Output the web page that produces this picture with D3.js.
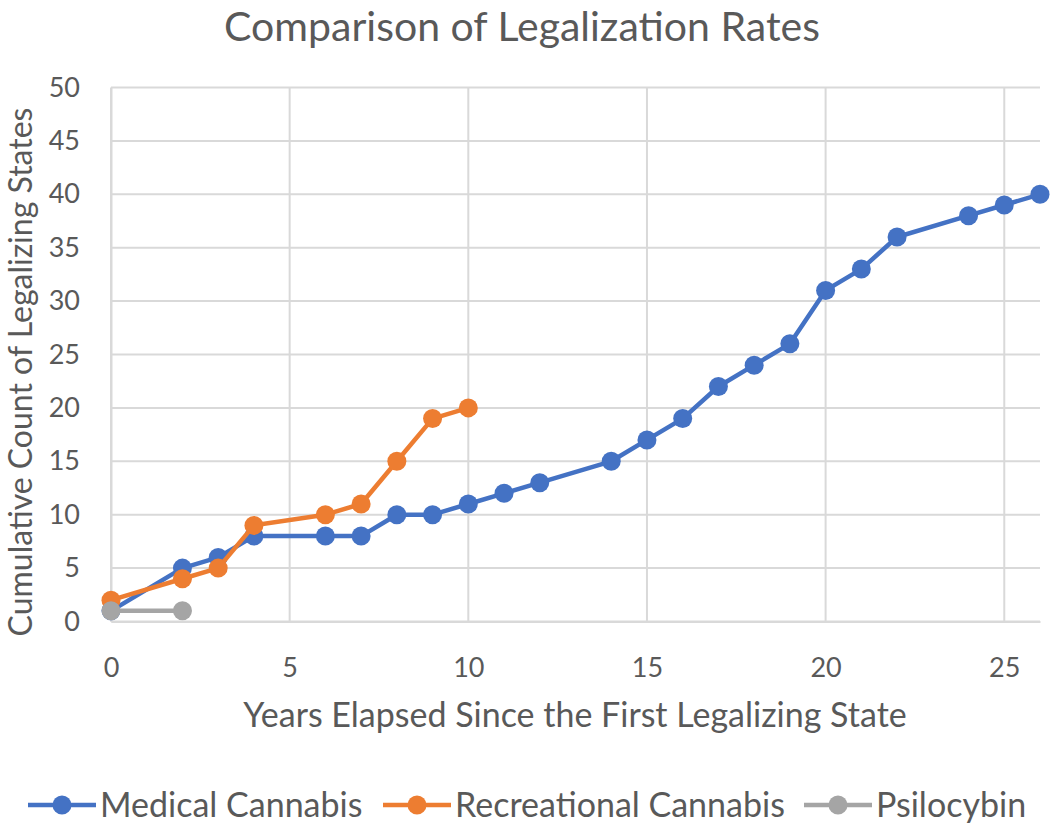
<!DOCTYPE html>
<html><head><meta charset="utf-8">
<script src="https://cdn.jsdelivr.net/npm/d3@7"></script>
<style>body{margin:0;background:#fff}svg{display:block}text{font-family:Lato,"Open Sans",sans-serif;fill:#595959}</style>
</head><body><svg id="c" width="1050" height="827"></svg>
<script>
const medicalYears = [0,2,3,4,6,7,8,9,10,11,12,14,15,16,17,18,19,20,21,22,24,25,26];
const medicalCounts = [1,5,6,8,8,8,10,10,11,12,13,15,17,19,22,24,26,31,33,36,38,39,40];
const recYears = [0,2,3,4,6,7,8,9,10];
const recCounts = [2,4,5,9,10,11,15,19,20];
const psiYears = [0,2];
const psiCounts = [1,1];
const seriesNames = ["Medical Cannabis","Recreational Cannabis","Psilocybin"];
const seriesColors = ["#4472C4","#ED7D31","#A5A5A5"];
const xTicks = [0,5,10,15,20,25];
const yTicks = [0,5,10,15,20,25,30,35,40,45,50];

const svg = d3.select("#c");
const x = d3.scaleLinear().domain([0,26]).range([111,1040]);
const y = d3.scaleLinear().domain([0,50]).range([621.5,87.5]);

// gridlines
svg.append("g").selectAll("line").data(yTicks).join("line")
  .attr("x1",111).attr("x2",1040).attr("y1",d=>y(d)).attr("y2",d=>y(d))
  .attr("stroke","#D9D9D9").attr("stroke-width",2);
svg.append("g").selectAll("line").data(xTicks).join("line")
  .attr("x1",d=>x(d)).attr("x2",d=>x(d)).attr("y1",y(0)).attr("y2",y(50))
  .attr("stroke","#D9D9D9").attr("stroke-width",2);

// axes
const xAxis = svg.append("g").attr("transform",`translate(0,${y(0)})`)
  .call(d3.axisBottom(x).tickValues(xTicks).tickSize(0).tickPadding(36));
xAxis.select(".domain").attr("stroke","#D9D9D9").attr("stroke-width",2);
xAxis.selectAll("text").attr("font-size",27).attr("fill","#595959").style("font-family","Lato");
const yAxis = svg.append("g").attr("transform",`translate(111,0)`)
  .call(d3.axisLeft(y).tickValues(yTicks).tickSize(0).tickPadding(31));
yAxis.select(".domain").attr("stroke","#D9D9D9").attr("stroke-width",2);
yAxis.selectAll("text").attr("font-size",27).attr("fill","#595959").style("font-family","Lato");

// series
const series = [
  {xs:medicalYears, ys:medicalCounts, c:seriesColors[0]},
  {xs:recYears, ys:recCounts, c:seriesColors[1]},
  {xs:psiYears, ys:psiCounts, c:seriesColors[2]}
];
const line = d3.line().x(d=>x(d[0])).y(d=>y(d[1]));
series.forEach(s=>{
  const pts = s.xs.map((v,i)=>[v,s.ys[i]]);
  const g = svg.append("g");
  g.append("path").datum(pts).attr("d",line).attr("fill","none")
    .attr("stroke",s.c).attr("stroke-width",4.5).attr("stroke-linejoin","round");
  g.selectAll("circle").data(pts).join("circle")
    .attr("cx",d=>x(d[0])).attr("cy",d=>y(d[1])).attr("r",9.5).attr("fill",s.c);
});

// title
svg.append("text").attr("x",522).attr("y",41).attr("text-anchor","middle")
  .attr("font-size",41).text("Comparison of Legalization Rates");
// x axis title
svg.append("text").attr("x",575).attr("y",727).attr("text-anchor","middle")
  .attr("font-size",34).text("Years Elapsed Since the First Legalizing State");
// y axis title
svg.append("text").attr("transform","translate(32,372) rotate(-90)").attr("text-anchor","middle")
  .attr("font-size",32).text("Cumulative Count of Legalizing States");

// legend
const legendX = [28,383,804];
seriesNames.forEach((n,i)=>{
  const g = svg.append("g").attr("transform",`translate(${legendX[i]},805)`);
  g.append("line").attr("x1",0).attr("x2",68).attr("stroke",seriesColors[i]).attr("stroke-width",4.5);
  g.append("circle").attr("cx",34).attr("r",9.5).attr("fill",seriesColors[i]);
  g.append("text").attr("x",72).attr("y",12).attr("font-size",34).text(n);
});
</script></body></html>
